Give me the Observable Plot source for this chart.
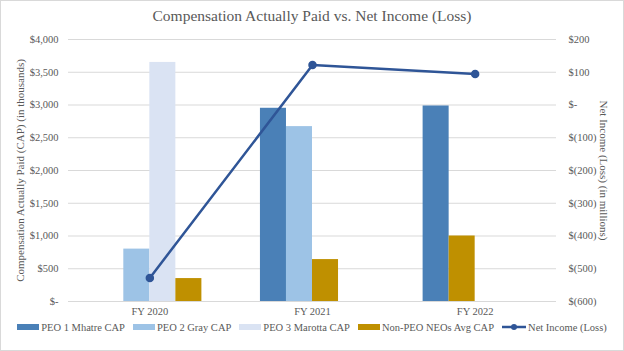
<!DOCTYPE html>
<html><head><meta charset="utf-8">
<script src="https://cdn.jsdelivr.net/npm/d3@7"></script>
<script src="https://cdn.jsdelivr.net/npm/@observablehq/plot@0.6"></script>
<style>
html,body{margin:0;padding:0;background:#fff;}
#wrap{position:relative;width:624px;height:351px;font-family:"Liberation Serif","Times New Roman",serif;color:#595959;overflow:hidden;}
#frame{position:absolute;left:0;top:0;width:622px;height:349px;border:1px solid #d9d9d9;pointer-events:none;}
#title{height:28px;line-height:32px;text-align:center;font-size:15.5px;color:#595959;}
#legend{display:flex;justify-content:center;align-items:center;gap:8px;font-size:10.5px;height:18px;margin-top:0px;}
#legend .it{display:flex;align-items:center;gap:2px;}
</style></head>
<body><div id="wrap"><div id="frame"></div>
<div id="title">Compensation Actually Paid vs. Net Income (Loss)</div>
<div id="chart"></div>
<div id="legend"></div>
</div>
<script>
const years = ["FY 2020", "FY 2021", "FY 2022"];
const seriesNames = ["PEO 1 Mhatre CAP", "PEO 2 Gray CAP", "PEO 3 Marotta CAP", "Non-PEO NEOs Avg CAP"];
const seriesColors = ["#4a80b7", "#9dc3e6", "#dae3f3", "#bf9000"];
// bars in the order they sit inside each year's group (blank = empty slot)
const barSeries2020 = ["", "PEO 2 Gray CAP", "PEO 3 Marotta CAP", "Non-PEO NEOs Avg CAP"];
const barValues2020 = [0, 800, 3650, 350];
const barSeries2021 = ["PEO 1 Mhatre CAP", "PEO 2 Gray CAP", "Non-PEO NEOs Avg CAP"];
const barValues2021 = [2950, 2670, 640];
const barSeries2022 = ["PEO 1 Mhatre CAP", "Non-PEO NEOs Avg CAP"];
const barValues2022 = [2985, 1000];
const netIncome = [-528, 122, 95]; // $ millions
const capTicks = [0, 500, 1000, 1500, 2000, 2500, 3000, 3500, 4000];
const niTicks = [-600, -500, -400, -300, -200, -100, 0, 100, 200];
const lineName = "Net Income (Loss)";
const lineColor = "#2f5597";

const W = 0.16; // bar width in band units
const groups = [[barSeries2020, barValues2020], [barSeries2021, barValues2021], [barSeries2022, barValues2022]];
const bars = [];
groups.forEach(([s, v], yi) => s.forEach((name, slot) => {
  if (name) bars.push({series: name, value: v[slot], x1: yi + (slot - 2) * W, x2: yi + (slot - 1) * W});
}));
const toCap = n => (n + 600) * 5;
const lineData = netIncome.map((n, i) => ({i, cap: toCap(n)}));
const fmtCap = n => n === 0 ? "$-" : "$" + d3.format(",")(n);
const fmtNI = n => { n = Math.round(n); return n === 0 ? "$-" : n < 0 ? `$(${-n})` : `$${n}`; };

const plot = Plot.plot({
  width: 624, height: 290,
  marginLeft: 68, marginRight: 68, marginTop: 11, marginBottom: 17,
  style: {fontFamily: '"Liberation Serif","Times New Roman",serif', fontSize: "10.5px", color: "#595959", background: "transparent"},
  x: {domain: [-0.5, 2.5]},
  y: {domain: [0, 4000]},
  color: {domain: seriesNames, range: seriesColors},
  marks: [
    Plot.gridY(capTicks, {stroke: "#d9d9d9", strokeOpacity: 1}),
    Plot.rectY(bars, {x1: "x1", x2: "x2", y: "value", fill: "series"}),
    Plot.line(lineData, {x: "i", y: "cap", stroke: lineColor, strokeWidth: 2.5}),
    Plot.dot(lineData, {x: "i", y: "cap", r: 3.5, fill: lineColor, stroke: lineColor}),
    Plot.axisY({anchor: "left", ticks: capTicks, tickFormat: fmtCap, tickSize: 0, tickPadding: 10, label: null}),
    Plot.axisY({anchor: "right", ticks: niTicks.map(toCap), tickFormat: v => fmtNI(v / 5 - 600), tickSize: 0, tickPadding: 12, textAnchor: "start", label: null}),
    Plot.axisX({ticks: [0, 1, 2], tickFormat: i => years[i], tickSize: 0, tickPadding: 6, label: null}),
    Plot.text(["Compensation Actually Paid (CAP) (in thousands)"], {frameAnchor: "left", textAnchor: "middle", dx: -48, rotate: -90, text: d => d, fontSize: 11, fill: "#595959"}),
    Plot.text(["Net Income (Loss) (in millions)"], {frameAnchor: "right", textAnchor: "middle", dx: 47, rotate: 90, text: d => d, fontSize: 11, fill: "#595959"})
  ]
});
document.getElementById("chart").appendChild(plot);

const leg = document.getElementById("legend");
seriesNames.forEach((n, i) => {
  const it = document.createElement("div"); it.className = "it";
  it.innerHTML = `<svg width="22" height="6"><rect width="22" height="6" fill="${seriesColors[i]}"/></svg><span>${n}</span>`;
  leg.appendChild(it);
});
const li = document.createElement("div"); li.className = "it";
li.innerHTML = `<svg width="24" height="8"><line x1="0" x2="24" y1="4" y2="4" stroke="${lineColor}" stroke-width="2.5"/><circle cx="12" cy="4" r="3" fill="${lineColor}"/></svg><span>${lineName}</span>`;
leg.appendChild(li);
</script></body></html>
